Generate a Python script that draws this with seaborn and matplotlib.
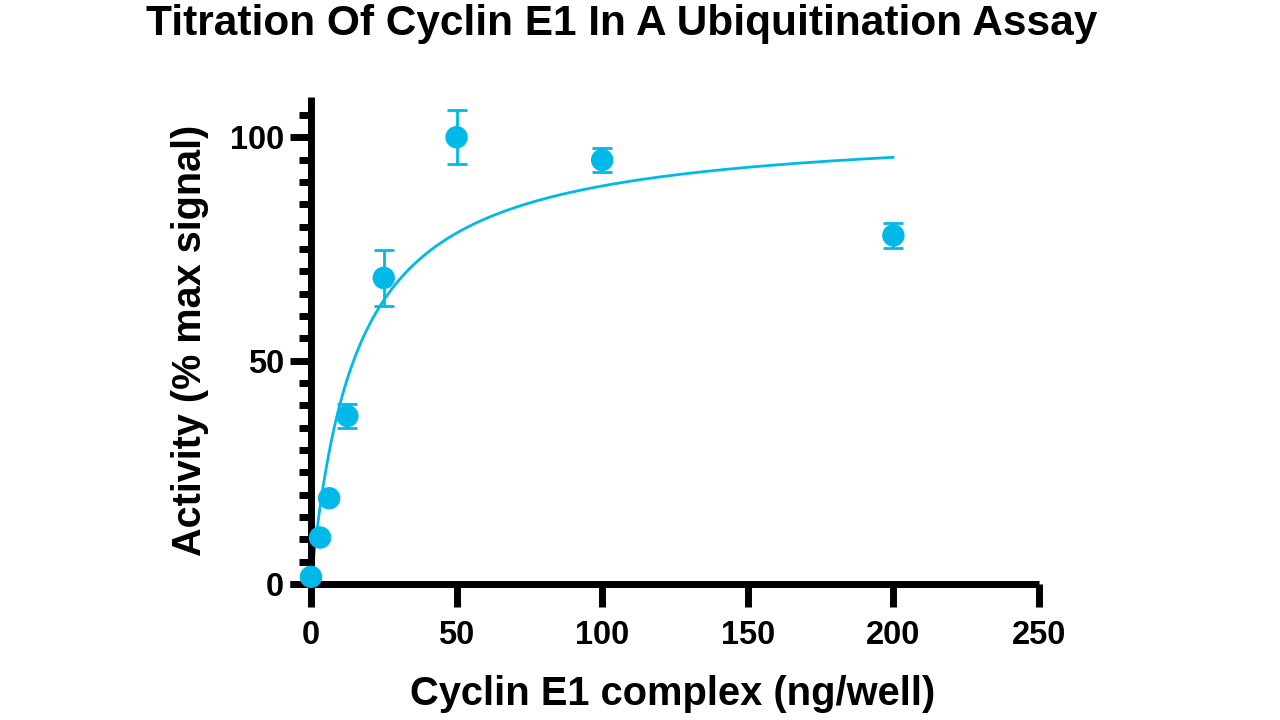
import numpy as np
import pandas as pd
import matplotlib
matplotlib.use("Agg")
import matplotlib.pyplot as plt
import seaborn as sns
from matplotlib.ticker import MultipleLocator

# Data
conc = [0, 3.125, 6.25, 12.5, 25, 50, 100, 200]
activity = [1.6, 10.4, 19.2, 37.6, 68.5, 100.0, 94.9, 78.0]
sem = [0.5, 0.6, 0.6, 2.6, 6.3, 6.1, 2.7, 2.7]

# One-site hyperbolic fit parameters
bmax = 102.9
kd = 15.5

x_ticks = [0, 50, 100, 150, 200, 250]
y_ticks = [0, 50, 100]

color = "#00B9E8"

sns.set_theme(style="white")
plt.rcParams["font.family"] = ["Liberation Sans", "DejaVu Sans"]
plt.rcParams["font.weight"] = "bold"
plt.rcParams["text.color"] = "black"
plt.rcParams["axes.labelcolor"] = "black"

fig = plt.figure(figsize=(12.8, 7.2), dpi=100)
ax = fig.add_axes([290/1280, 1 - 584/720, (1039 - 290)/1280, (584 - 97)/720])

df = pd.DataFrame({"conc": conc, "activity": activity})
xfit = np.linspace(0, max(conc), 400)
fit = pd.DataFrame({"x": xfit, "y": bmax * xfit / (kd + xfit)})
sns.lineplot(data=fit, x="x", y="y", ax=ax, color=color, lw=2, zorder=2)

ax.errorbar(conc, activity, yerr=sem, fmt="none", ecolor=color, elinewidth=2,
            capsize=7, capthick=2, zorder=3, clip_on=False)
sns.scatterplot(data=df, x="conc", y="activity", ax=ax, color=color, s=260,
                edgecolor="none", zorder=4, clip_on=False)

ax.set_xlim(-7.2, 250)
ax.set_ylim(0, 109)
ax.set_xticks(x_ticks)
ax.set_yticks(y_ticks)
ax.yaxis.set_minor_locator(MultipleLocator(5))

for s in ["top", "right"]:
    ax.spines[s].set_visible(False)
ax.spines["left"].set_position(("data", 0))
for s in ["left", "bottom"]:
    ax.spines[s].set_linewidth(5)
    ax.spines[s].set_color("black")
    ax.spines[s].set_capstyle("butt")

ax.tick_params(axis="x", which="major", direction="out", length=16.5, width=5,
               colors="black", labelcolor="black", labelsize=23.5, pad=9.5, bottom=True)
ax.tick_params(axis="y", which="major", direction="out", length=15, width=5,
               colors="black", labelcolor="black", labelsize=23.5, pad=4.5, left=True)
ax.tick_params(axis="y", which="minor", direction="out", length=8.6, width=5,
               colors="black", left=True)
ax.tick_params(axis="x", which="minor", bottom=False)
for lab in ax.get_xticklabels() + ax.get_yticklabels():
    lab.set_fontweight("bold")

ax.set_xlabel("Cyclin E1 complex (ng/well)", fontsize=28.7, fontweight="bold", color="black")
ax.set_ylabel("Activity (% max signal)", fontsize=28.5, fontweight="bold", color="black")
ax.xaxis.set_label_coords((673 - 290) / (1039 - 290), -(694 - 584) / (584 - 97))
ax.yaxis.set_label_coords(-(290 - 190) / (1039 - 290), (584 - 340) / (584 - 97))
ax.xaxis.label.set_va("center")
ax.yaxis.label.set_va("center")

fig.text(622/1280, 1 - 24/720, "Titration Of Cyclin E1 In A Ubiquitination Assay",
         ha="center", va="center", fontsize=30.5, fontweight="bold", color="black")

fig.savefig("out.png", dpi=100)
